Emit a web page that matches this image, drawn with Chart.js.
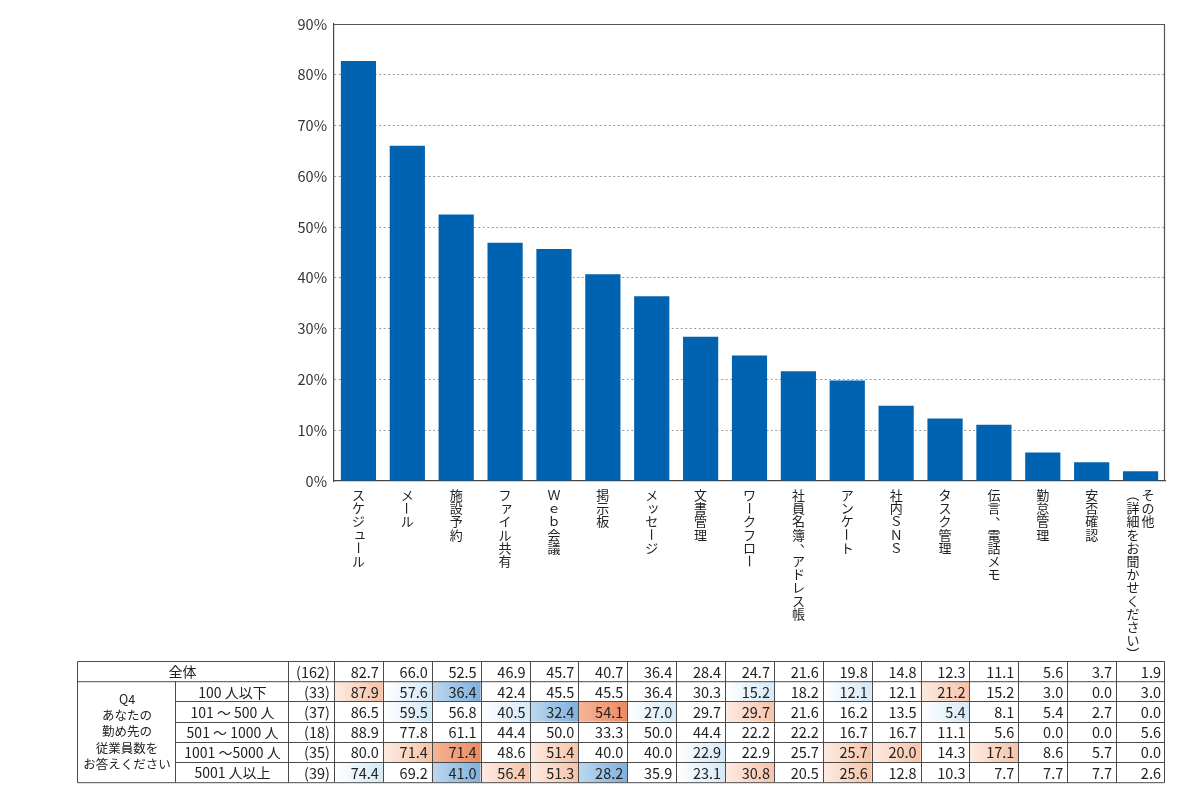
<!DOCTYPE html>
<html>
<head>
<meta charset="utf-8">
<script src="https://cdn.jsdelivr.net/npm/chart.js@4/dist/chart.umd.min.js"></script>
<style>
  body { margin: 0; background: #fff; }
  #wrap { width: 1200px; height: 803px; }
</style>
</head>
<body>
<div id="wrap"><canvas id="myChart" width="1200" height="803"></canvas></div>
<script>
// categories (vertical labels; arrays = several columns, right to left)
const categories = ['スケジュール', 'メール', '施設予約', 'ファイル共有', 'Ｗｅｂ会議', '掲示板', 'メッセージ',
    '文書管理', 'ワークフロー', '社員名簿、アドレス帳', 'アンケート', '社内ＳＮＳ', 'タスク管理',
    '伝言、電話メモ', '勤怠管理', '安否確認', ['その他', '（詳細をお聞かせください）']];

// 全体 (n=162) - also the bar heights
const overallN = 162;
const overall = [82.7, 66.0, 52.5, 46.9, 45.7, 40.7, 36.4, 28.4, 24.7, 21.6, 19.8, 14.8, 12.3, 11.1, 5.6, 3.7, 1.9];

// Q4 company size breakdown
const groupLabels = ['100 人以下', '101 ～ 500 人', '501 ～ 1000 人', '1001 ～5000 人', '5001 人以上'];
const groupN = [33, 37, 18, 35, 39];
const size100 = [87.9, 57.6, 36.4, 42.4, 45.5, 45.5, 36.4, 30.3, 15.2, 18.2, 12.1, 12.1, 21.2, 15.2, 3.0, 0.0, 3.0];
const size500 = [86.5, 59.5, 56.8, 40.5, 32.4, 54.1, 27.0, 29.7, 29.7, 21.6, 16.2, 13.5, 5.4, 8.1, 5.4, 2.7, 0.0];
const size1000 = [88.9, 77.8, 61.1, 44.4, 50.0, 33.3, 50.0, 44.4, 22.2, 22.2, 16.7, 16.7, 11.1, 5.6, 0.0, 0.0, 5.6];
const size5000 = [80.0, 71.4, 71.4, 48.6, 51.4, 40.0, 40.0, 22.9, 22.9, 25.7, 25.7, 20.0, 14.3, 17.1, 8.6, 5.7, 0.0];
const sizeOver = [74.4, 69.2, 41.0, 56.4, 51.3, 28.2, 35.9, 23.1, 30.8, 20.5, 25.6, 12.8, 10.3, 7.7, 7.7, 7.7, 2.6];
const groupRows = [size100, size500, size1000, size5000, sizeOver];

const yTicks = [0, 10, 20, 30, 40, 50, 60, 70, 80, 90];

const FONT = '"Noto Sans CJK JP", "Noto Sans", sans-serif';
const TEXT = '#222';
const LINE = '#4a4a4a';

// heat colours: [left, right] of each cell gradient
const heat = {
    '2': ['#f6b596', '#ec8a60'],
    '1': ['#fdebe2', '#f7c3a8'],
    '-1': ['#ffffff', '#d5e9f7'],
    '-2': ['#bdd8f0', '#7fb0de']
};

function heatLevel(v, base, n) {
    if (n < 30) return 0;
    var d = v - base;
    if (d >= 10) return 2;
    if (d >= 5) return 1;
    if (d <= -10) return -2;
    if (d <= -5) return -1;
    return 0;
}

function drawVChar(ctx, ch, x, y, size) {
    if ('ー－（）〜～'.indexOf(ch) >= 0) {
        ctx.save();
        ctx.translate(x, y);
        ctx.rotate(Math.PI / 2);
        ctx.fillText(ch, 0, 0);
        ctx.restore();
    } else if ('、。'.indexOf(ch) >= 0) {
        ctx.fillText(ch, x + size * 0.6, y - size * 0.55);
    } else if ('ァィゥェォッャュョ'.indexOf(ch) >= 0) {
        ctx.fillText(ch, x + size * 0.12, y - size * 0.12);
    } else {
        ctx.fillText(ch, x, y);
    }
}

const frame = {
    id: 'frame',
    afterDatasetsDraw(chart) {
        const ctx = chart.ctx, a = chart.chartArea;
        ctx.save();
        ctx.strokeStyle = '#555';
        ctx.lineWidth = 1.2;
        ctx.beginPath();
        ctx.moveTo(a.left, a.top + 0.5);
        ctx.lineTo(a.right - 0.5, a.top + 0.5);
        ctx.lineTo(a.right - 0.5, a.bottom);
        ctx.stroke();
        ctx.restore();
    }
};

const verticalLabels = {
    id: 'verticalLabels',
    afterDraw(chart) {
        const ctx = chart.ctx, xs = chart.scales.x;
        const size = 13, step = 13.2, top = 495;
        ctx.save();
        ctx.font = size + 'px ' + FONT;
        ctx.fillStyle = TEXT;
        ctx.textAlign = 'center';
        ctx.textBaseline = 'middle';
        categories.forEach(function (lab, i) {
            const cols = Array.isArray(lab) ? lab : [lab];
            const cx = xs.getPixelForValue(i);
            cols.forEach(function (col, c) {
                const x = cx + ((cols.length - 1) / 2 - c) * 15;
                Array.from(col).forEach(function (ch, k) {
                    drawVChar(ctx, ch, x, top + k * step, size);
                });
            });
        });
        ctx.restore();
    }
};

const crossTable = {
    id: 'crossTable',
    afterDraw(chart) {
        const ctx = chart.ctx, xs = chart.scales.x, a = chart.chartArea;
        const tTop = 661, rowH = 20.2, nRows = 6;
        const tLeft = 77, c1 = 175, c2 = 288, c3 = a.left, tRight = a.right;
        const w = xs.getPixelForValue(1) - xs.getPixelForValue(0);
        const colL = function (i) { return xs.getPixelForValue(i) - w / 2; };
        const rowY = function (r) { return tTop + r * rowH; };
        const tBottom = rowY(nRows);

        ctx.save();
        // shaded cells
        groupRows.forEach(function (row, r) {
            row.forEach(function (v, i) {
                const lv = heatLevel(v, overall[i], groupN[r]);
                if (!lv) return;
                const x0 = colL(i), x1 = colL(i) + w;
                const g = ctx.createLinearGradient(x0, 0, x1, 0);
                g.addColorStop(0, heat[lv][0]);
                g.addColorStop(1, heat[lv][1]);
                ctx.fillStyle = g;
                ctx.fillRect(x0, rowY(r + 1), w, rowH);
            });
        });

        // text
        ctx.fillStyle = TEXT;
        ctx.textBaseline = 'middle';
        ctx.textAlign = 'center';
        ctx.font = '14px ' + FONT;
        ctx.fillText('全体', (tLeft + c2) / 2, rowY(0) + rowH / 2 + 1);
        groupLabels.forEach(function (lab, r) {
            ctx.fillText(lab, (c1 + c2) / 2 + 1, rowY(r + 1) + rowH / 2 + 1);
        });
        ctx.font = '12.5px ' + FONT;
        const q4 = ['Q4', 'あなたの', '勤め先の', '従業員数を', 'お答えください'];
        const gMid = (rowY(1) + tBottom) / 2;
        q4.forEach(function (t, k) {
            ctx.fillText(t, (tLeft + c1) / 2 + 1, gMid + (k - 2) * 16.4);
        });

        ctx.font = '14.5px ' + FONT;
        ctx.textAlign = 'right';
        ctx.fillText('(' + overallN + ')', c3 - 4, rowY(0) + rowH / 2 + 1);
        groupN.forEach(function (n, r) {
            ctx.fillText('(' + n + ')', c3 - 4, rowY(r + 1) + rowH / 2 + 1);
        });
        overall.forEach(function (v, i) {
            ctx.fillText(v.toFixed(1), colL(i) + w - 4, rowY(0) + rowH / 2 + 1);
        });
        groupRows.forEach(function (row, r) {
            row.forEach(function (v, i) {
                ctx.fillText(v.toFixed(1), colL(i) + w - 4, rowY(r + 1) + rowH / 2 + 1);
            });
        });

        // grid lines
        ctx.strokeStyle = LINE;
        ctx.lineWidth = 1;
        ctx.beginPath();
        ctx.rect(tLeft + 0.5, tTop + 0.5, tRight - tLeft - 1, tBottom - tTop);
        ctx.moveTo(tLeft, rowY(1) + 0.5);
        ctx.lineTo(tRight, rowY(1) + 0.5);
        for (let r = 2; r < nRows; r++) {
            ctx.moveTo(c1, Math.round(rowY(r)) + 0.5);
            ctx.lineTo(tRight, Math.round(rowY(r)) + 0.5);
        }
        ctx.moveTo(c1 + 0.5, rowY(1));
        ctx.lineTo(c1 + 0.5, tBottom);
        [c2, c3].forEach(function (x) {
            ctx.moveTo(Math.round(x) + 0.5, tTop);
            ctx.lineTo(Math.round(x) + 0.5, tBottom);
        });
        for (let i = 1; i < overall.length; i++) {
            const x = Math.round(colL(i)) + 0.5;
            ctx.moveTo(x, tTop);
            ctx.lineTo(x, tBottom);
        }
        ctx.stroke();
        ctx.restore();
    }
};

var ctx = document.getElementById('myChart').getContext('2d');
var myBarChart = new Chart(ctx, {
    type: 'bar',
    data: {
        labels: categories,
        datasets: [{
            label: '全体',
            data: overall,
            backgroundColor: '#0063b1',
            barPercentage: 0.72,
            categoryPercentage: 1.0
        }]
    },
    options: {
        responsive: false,
        animation: false,
        layout: { padding: { top: 24, right: 35, bottom: 0, left: 0 } },
        plugins: {
            legend: { display: false },
            tooltip: { enabled: false }
        },
        scales: {
            x: {
                grid: { display: false },
                border: { display: true, color: '#444', width: 1.2 },
                ticks: { display: false },
                afterFit: function (scale) { scale.height = 322; }
            },
            y: {
                min: 0,
                max: 90,
                afterBuildTicks: function (scale) {
                    scale.ticks = yTicks.map(function (v) { return { value: v }; });
                },
                grid: {
                    drawTicks: false,
                    color: function (c) {
                        return (c.tick && (c.tick.value === 0 || c.tick.value === 90)) ? 'rgba(0,0,0,0)' : '#9a9a9a';
                    },
                    lineWidth: 1
                },
                border: { display: true, color: '#444', width: 1.2, dash: [2, 2.5] },
                ticks: {
                    padding: 7,
                    color: '#333',
                    font: { family: FONT, size: 14.5 },
                    callback: function (v) { return v + '%'; }
                },
                afterFit: function (scale) { scale.width = 334; }
            }
        }
    },
    plugins: [frame, verticalLabels, crossTable]
});
</script>
</body>
</html>
